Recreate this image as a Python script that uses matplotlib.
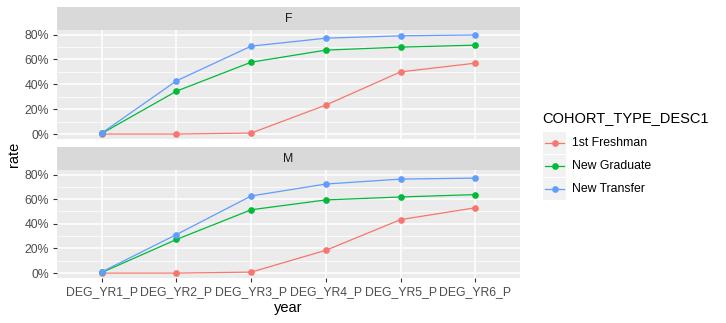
import matplotlib
matplotlib.use("Agg")
import matplotlib.pyplot as plt
from matplotlib.ticker import FuncFormatter, MultipleLocator

plt.rcParams['font.family'] = ['Liberation Sans', 'DejaVu Sans']

years = ["DEG_YR1_P", "DEG_YR2_P", "DEG_YR3_P", "DEG_YR4_P", "DEG_YR5_P", "DEG_YR6_P"]
cohorts = ["1st Freshman", "New Graduate", "New Transfer"]
colors = ["#F8766D", "#00BA38", "#619CFF"]

f_freshman = [0.0, 0.0, 0.008, 0.233, 0.500, 0.570]
f_graduate = [0.005, 0.345, 0.578, 0.675, 0.699, 0.715]
f_transfer = [0.008, 0.428, 0.707, 0.771, 0.790, 0.797]

m_freshman = [0.0, 0.0, 0.008, 0.185, 0.434, 0.530]
m_graduate = [0.005, 0.273, 0.514, 0.594, 0.618, 0.637]
m_transfer = [0.010, 0.313, 0.626, 0.723, 0.763, 0.771]

panels = [("F", [f_freshman, f_graduate, f_transfer]),
          ("M", [m_freshman, m_graduate, m_transfer])]

W, H = 726, 323
fig = plt.figure(figsize=(W / 100, H / 100), dpi=100)

def box(x0, y0, x1, y1):
    return [x0 / W, 1 - y1 / H, (x1 - x0) / W, (y1 - y0) / H]

panel_boxes = [(57, 30, 520, 139), (57, 170, 520, 278)]
strip_boxes = [(57, 7, 520, 30), (57, 147, 520, 170)]

allvals = [v for _, s in panels for ser in s for v in ser]
vmin, vmax = min(allvals), max(allvals)
pad = (vmax - vmin) * 0.05
x = list(range(1, len(years) + 1))

for i, ((label, series), pb, sb) in enumerate(zip(panels, panel_boxes, strip_boxes)):
    ax = fig.add_axes(box(*pb))
    ax.set_facecolor("#EBEBEB")
    for s in ax.spines.values():
        s.set_visible(False)
    ax.set_xlim(0.4, len(years) + 0.6)
    ax.set_ylim(vmin - pad, vmax + pad)
    ax.yaxis.set_major_locator(MultipleLocator(0.2))
    ax.yaxis.set_minor_locator(MultipleLocator(0.1))
    ax.yaxis.set_major_formatter(FuncFormatter(lambda v, p: f"{v*100:.0f}%"))
    ax.set_xticks(x)
    ax.grid(True, which="major", color="white", linewidth=1.1)
    ax.grid(True, which="minor", axis="y", color="white", linewidth=0.55)
    ax.set_axisbelow(True)
    ax.tick_params(axis="both", which="major", colors="#333333", labelcolor="#4D4D4D",
                   labelsize=8.8, length=3, width=0.8, pad=2.5)
    ax.tick_params(axis="y", which="minor", length=0)
    if i == 0:
        ax.tick_params(axis="x", length=0, labelbottom=False)
    else:
        ax.set_xticklabels(years)
        ax.set_xlabel("year", fontsize=10.5, labelpad=2.5)
    for ser, c in zip(series, colors):
        ax.plot(x, ser, color=c, linewidth=0.9, marker="o", markersize=3.8, zorder=3)
    sax = fig.add_axes(box(*sb))
    sax.set_xticks([]); sax.set_yticks([])
    for s in sax.spines.values():
        s.set_visible(False)
    sax.set_facecolor("#D9D9D9")
    sax.text(0.5, 0.5, label, ha="center", va="center", fontsize=8.8, color="#1A1A1A",
             transform=sax.transAxes)

fig.text(7 / W, 1 - 154 / H, "rate", rotation=90, ha="left", va="center", fontsize=10.5)

# legend
fig.text(542 / W, 1 - 118 / H, "COHORT_TYPE_DESC1", ha="left", va="center", fontsize=10.5)
for k, (name, c) in enumerate(zip(cohorts, colors)):
    y0 = 132 + k * 23
    lax = fig.add_axes(box(543, y0, 566, y0 + 22))
    lax.set_facecolor("#F2F2F2")
    lax.set_xticks([]); lax.set_yticks([])
    for s in lax.spines.values():
        s.set_visible(False)
    lax.set_xlim(0, 1); lax.set_ylim(0, 1)
    lax.plot([0.1, 0.9], [0.5, 0.5], color=c, linewidth=0.9)
    lax.plot([0.5], [0.5], color=c, marker="o", markersize=3.8)
    fig.text(572 / W, 1 - (y0 + 11) / H, name, ha="left", va="center", fontsize=8.8)

fig.savefig("out.png", dpi=100)
